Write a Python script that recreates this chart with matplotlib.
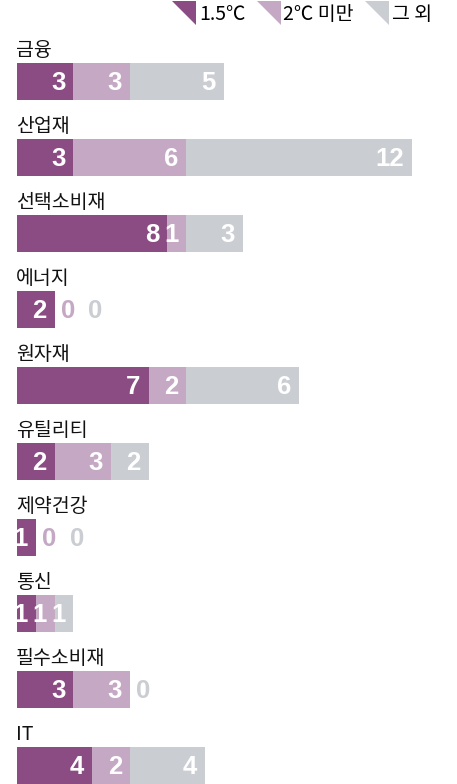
import matplotlib
matplotlib.use('Agg')
import matplotlib.pyplot as plt
import numpy as np
from matplotlib.path import Path
from matplotlib.lines import Line2D

plt.rcParams['font.family'] = ['Noto Sans CJK KR', 'DejaVu Sans']

cats = ['금융', '산업재', '선택소비재', '에너지', '원자재', '유틸리티', '제약건강', '통신', '필수소비재', 'IT']
v15 = [3, 3, 8, 2, 7, 2, 1, 1, 3, 4]      # 1.5도
v2 = [3, 6, 1, 0, 2, 3, 0, 1, 3, 2]       # 2도 미만
vother = [5, 12, 3, 0, 6, 2, 0, 1, 0, 4]  # 그 외
series = [v15, v2, vother]
names = ['1.5℃', '2℃ 미만', '그 외']
colors = ['#8B4B83', '#C4A8C4', '#CACDD2']

fig = plt.figure(figsize=(4.57, 7.84), dpi=100)
ax = fig.add_axes([0, 0, 1, 1])
ax.axis('off')

unit = 18.8  # px per count
ax.set_xlim(-17 / unit, (457 - 17) / unit)
ax.set_ylim((784 - 81.5) / 76, -81.5 / 76)

h = 0.487
y = np.arange(len(cats))
left = np.zeros(len(cats))
for s, col in zip(series, colors):
    ax.barh(y, s, left=left, height=h, color=col, linewidth=0)
    left = left + np.array(s)

numfont = dict(fontsize=18.5, fontweight='bold', family='Liberation Sans')
for i, c in enumerate(cats):
    ax.text(-0.05, i - h / 2 - 0.03, c, fontsize=14, va='bottom', ha='left', color='#111111')
    end = 0
    nz = 0
    for s, col in zip(series, colors):
        v = s[i]
        if v > 0:
            end += v
            ax.text(end - 0.42, i + 0.02, str(v), ha='right', va='center', color='white', **numfont)
        else:
            ax.text(end + 0.35 + nz * 1.45, i + 0.02, '0', ha='left', va='center', color=col, **numfont)
            nz += 1

tri = Path([(-1, 1), (1, 1), (1, -1), (-1, 1)], [Path.MOVETO, Path.LINETO, Path.LINETO, Path.CLOSEPOLY])
handles = [Line2D([], [], linestyle='none', marker=tri, markersize=17, color=c, markeredgewidth=0) for c in colors]
fig.legend(handles, names, loc='upper right', bbox_to_anchor=(0.975, 1.012), ncol=3, frameon=False,
           fontsize=14, handlelength=1.2, handletextpad=0.15, columnspacing=0.6, borderaxespad=0.3)

fig.savefig('out.png', dpi=100)
